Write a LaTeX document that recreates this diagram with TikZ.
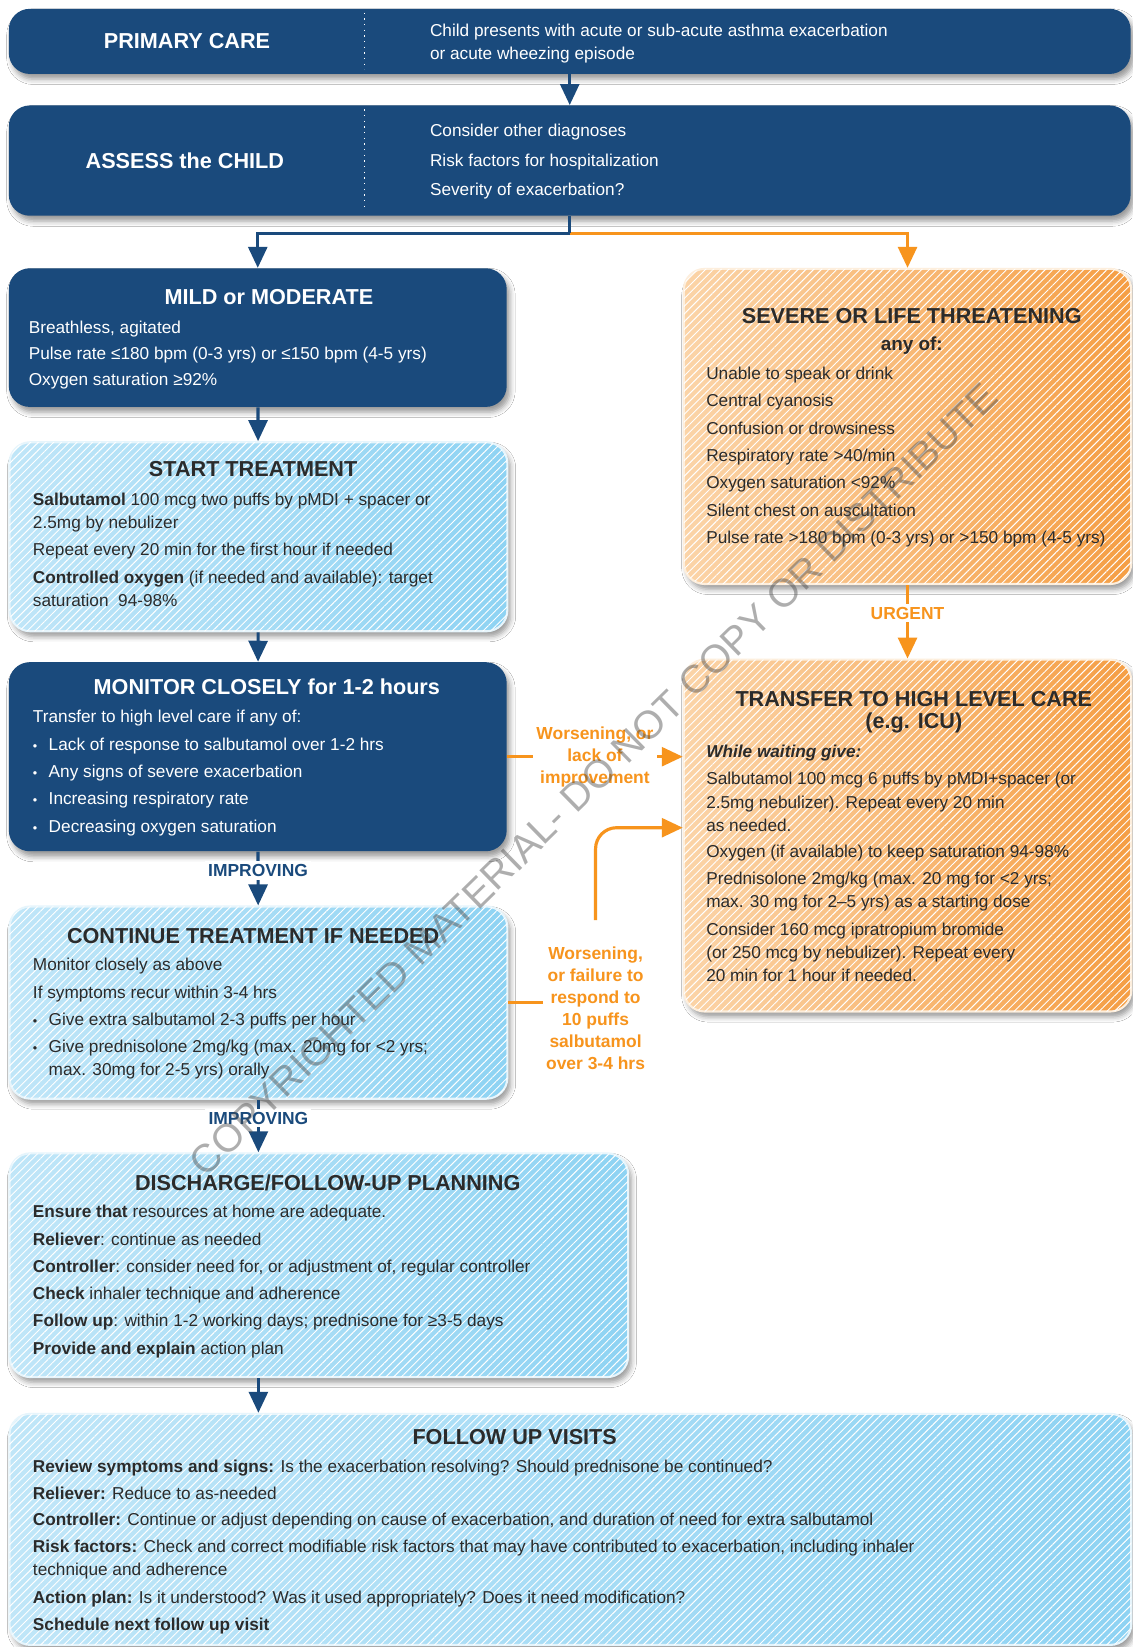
\documentclass[tikz,border=0pt]{standalone}
\usepackage{fontspec}
\setmainfont{Liberation Sans}
\usepackage[dvipsnames,rgb]{xcolor}
\usepackage{tikz}
\usetikzlibrary{positioning,shapes,arrows.meta,shadows.blur,patterns.meta}

\definecolor{NavyBox}{HTML}{1A4A7C}
\definecolor{SkyLeft}{HTML}{C0E6F8}
\definecolor{SkyRight}{HTML}{8ED3F3}
\definecolor{PeachLeft}{HTML}{FBD4A8}
\definecolor{PeachRight}{HTML}{F59E44}
\definecolor{Tangerine}{HTML}{F7941D}
\definecolor{Ink}{HTML}{2B2B2B}

\newcommand{\bodyfont}{\fontsize{8.2}{11}\selectfont}
\newcommand{\headfont}{\fontsize{10.3}{10.5}\selectfont\bfseries}
\newcommand{\tagfont}{\fontsize{8.3}{10.5}\selectfont\bfseries}
\newcommand{\blt}{\makebox[7.5pt][l]{\fontsize{6}{6}\selectfont\textbullet}}

\begin{document}
\begin{tikzpicture}[
        x=0.5pt, y=-0.5pt,
        >={Triangle[width=9pt,length=10pt]},
        every to/.append style = {
            every node/.style={
                fill=White,
                text opacity=1
            }
        },
        card/.style={rectangle, rounded corners=10pt, anchor=north west, inner sep=0pt,
            blur shadow={shadow xshift=1.5pt, shadow yshift=-2.5pt, shadow blur radius=2.5pt, shadow opacity=40}},
        navycard/.style={card, fill=NavyBox},
        skycard/.style={card, left color=SkyLeft, right color=SkyRight, draw=white!60!SkyLeft, line width=1pt,
            postaction={pattern={Lines[angle=45,distance=2.6pt,line width=0.45pt]}, pattern color=white, fill opacity=0.35}},
        peachcard/.style={card, left color=PeachLeft, right color=PeachRight, draw=white!60!PeachLeft, line width=1pt,
            postaction={pattern={Lines[angle=45,distance=2.6pt,line width=0.45pt]}, pattern color=white, fill opacity=0.35}},
        head/.style={font=\headfont, inner sep=0pt, align=center},
        body/.style={font=\bodyfont, inner sep=0pt, align=left, anchor=north west},
        navywire/.style={NavyBox, line width=1.5pt},
        orangewire/.style={Tangerine, line width=1.5pt},
        tag/.style={font=\tagfont, inner sep=1.5pt, align=center}
    ]
        \path[use as bounding box, fill=White] (0,0) rectangle (1078,1568);

        \node[navycard, minimum width=534pt, minimum height=31pt](primary) at (8,8){};
        \node[navycard, minimum width=534pt, minimum height=52.5pt](assess) at (8,100){};
        \node[navycard, minimum width=237pt, minimum height=66pt](mild) at (8,255){};
        \node[skycard, minimum width=237pt, minimum height=90pt](start) at (8,420){};
        \node[navycard, minimum width=237pt, minimum height=90pt](monitor) at (8,630){};
        \node[skycard, minimum width=237pt, minimum height=91.5pt](cont) at (8,862){};
        \node[skycard, minimum width=294.5pt, minimum height=106.5pt](discharge) at (8,1097){};
        \node[skycard, minimum width=534pt, minimum height=110pt](visits) at (8,1345){};
        \node[peachcard, minimum width=213pt, minimum height=150pt](severe) at (650,255){};
        \node[peachcard, minimum width=213pt, minimum height=167.5pt](transfer) at (650,627){};

        \draw[White, dotted, line width=0.7pt] (347,12) -- (347,66);
        \draw[White, dotted, line width=0.7pt] (347,104) -- (347,201);

        \node[head, White](primaryT) at (178,39){PRIMARY CARE};
        \node[body, White](primaryB) at (409,22){Child presents with acute or sub-acute asthma exacerbation\\or acute wheezing episode};

        \node[head, White](assessT) at (176,153){ASSESS the CHILD};
        \node[body, White](assessB) at (409,118){Consider other diagnoses\\[3pt]Risk factors for hospitalization\\[3pt]Severity of exacerbation?};

        \node[head, White](mildT) at (256,283){MILD or MODERATE};
        \node[body, White](mildB) at (27,305){Breathless, agitated\\[1.5pt]Pulse rate ≤180 bpm (0-3 yrs) or ≤150 bpm (4-5 yrs)\\[1.5pt]Oxygen saturation ≥92\%};

        \node[head, text=Ink](startT) at (241,447){START TREATMENT};
        \node[body, text=Ink](startB) at (31,469){\textbf{Salbutamol} 100 mcg two puffs by pMDI + spacer or\\2.5mg by nebulizer\\[2pt]Repeat every 20 min for the first hour if needed\\[2pt]\textbf{Controlled oxygen} (if needed and available): target\\saturation\ \ 94-98\%};

        \node[head, White](monitorT) at (254,654){MONITOR CLOSELY for 1-2 hours};
        \node[body, White](monitorB) at (31,676){Transfer to high level care if any of:\\[2pt]\blt Lack of response to salbutamol over 1-2 hrs\\[2pt]\blt Any signs of severe exacerbation\\[2pt]\blt Increasing respiratory rate\\[2pt]\blt Decreasing oxygen saturation};

        \node[head, text=Ink](contT) at (241,891){CONTINUE TREATMENT IF NEEDED};
        \node[body, text=Ink](contB) at (31,912){Monitor closely as above\\[2pt]If symptoms recur within 3-4 hrs\\[2pt]\blt Give extra salbutamol 2-3 puffs per hour\\[2pt]\blt Give prednisolone 2mg/kg (max. 20mg for <2 yrs;\\\hspace*{7.5pt}max. 30mg for 2-5 yrs) orally};

        \node[head, text=Ink](dischargeT) at (312,1126){DISCHARGE/FOLLOW-UP PLANNING};
        \node[body, text=Ink](dischargeB) at (31,1147){\textbf{Ensure that} resources at home are adequate.\\[2pt]\textbf{Reliever}: continue as needed\\[2pt]\textbf{Controller}: consider need for, or adjustment of, regular controller\\[2pt]\textbf{Check} inhaler technique and adherence\\[2pt]\textbf{Follow up}: within 1-2 working days; prednisone for ≥3-5 days\\[2pt]\textbf{Provide and explain} action plan};

        \node[head, text=Ink](visitsT) at (490,1368){FOLLOW UP VISITS};
        \node[body, text=Ink](visitsB) at (31,1390){\textbf{Review symptoms and signs:} Is the exacerbation resolving? Should prednisone be continued?\\[1.5pt]\textbf{Reliever:} Reduce to as-needed\\[1.5pt]\textbf{Controller:} Continue or adjust depending on cause of exacerbation, and duration of need for extra salbutamol\\[2pt]\textbf{Risk factors:} Check and correct modifiable risk factors that may have contributed to exacerbation, including inhaler\\technique and adherence\\[2pt]\textbf{Action plan:} Is it understood? Was it used appropriately? Does it need modification?\\[2pt]\textbf{Schedule next follow up visit}};

        \node[head, text=Ink](severeT) at (868,301){SEVERE OR LIFE THREATENING};
        \node[font=\fontsize{9}{9}\selectfont\bfseries, text=Ink, inner sep=0pt, below=6pt of severeT](anyof){any of:};
        \node[body, text=Ink](severeB) at (672,349){Unable to speak or drink\\[2pt]Central cyanosis\\[2pt]Confusion or drowsiness\\[2pt]Respiratory rate >40/min\\[2pt]Oxygen saturation <92\%\\[2pt]Silent chest on auscultation\\[2pt]Pulse rate >180 bpm (0-3 yrs) or >150 bpm (4-5 yrs)};

        \node[head, text=Ink](transferT) at (870,678){TRANSFER TO HIGH LEVEL CARE\\(e.g. ICU)};
        \node[body, text=Ink](transferB) at (672,709){\textbf{\textit{While waiting give:}}\\[2pt]Salbutamol 100 mcg 6 puffs by pMDI+spacer (or\\2.5mg nebulizer). Repeat every 20 min\\as needed.\\[1.5pt]Oxygen (if available) to keep saturation 94-98\%\\[2pt]Prednisolone 2mg/kg (max. 20 mg for <2 yrs;\\max. 30 mg for 2--5 yrs) as a starting dose\\[2pt]Consider 160 mcg ipratropium bromide\\(or 250 mcg by nebulizer). Repeat every\\20 min for 1 hour if needed.};

        \coordinate (fork) at (assess.south |- 0,222);
        \draw[navywire, ->] (primary) to (assess);
        \draw[orangewire, ->] (fork) -| (severe.north);
        \draw[navywire] (assess.south) -- (fork);
        \draw[navywire, ->] (fork) -| (mild.north);
        \draw[navywire, ->] (mild) to (start);
        \draw[navywire, ->] (start) to (monitor);
        \draw[navywire, ->] (monitor) to node[tag, text=NavyBox, pos=0.35]{IMPROVING} (cont);
        \draw[navywire, ->] (cont) to node[tag, text=NavyBox, pos=0.35]{IMPROVING} (cont.south |- discharge.north);
        \draw[navywire, ->] (cont.south |- discharge.south) to (cont.south |- visits.north);
        \draw[orangewire, ->] (severe) to node[tag, text=Tangerine, pos=0.38]{URGENT} (transfer);
        \draw[orangewire, ->] (monitor.east) to node[tag, text=Tangerine]{Worsening, or\\lack of\\improvement} (monitor.east -| transfer.west);
        \node[tag, text=Tangerine](fail) at (567,960){Worsening,\\or failure to\\respond to\\10 puffs\\salbutamol\\over 3-4 hrs};
        \draw[orangewire] (cont.east) to (cont.east -| fail.west);
        \draw[orangewire, ->, rounded corners=10pt] ([yshift=11pt]fail.north) |- (transfer.west |- 0,788);

        \node[rotate=44.4, font=\fontsize{18.8}{18.8}\selectfont, text=black!70, text opacity=0.45](stamp) at (565,742){COPYRIGHTED MATERIAL- DO NOT COPY OR DISTRIBUTE};
    \end{tikzpicture}
\end{document}
